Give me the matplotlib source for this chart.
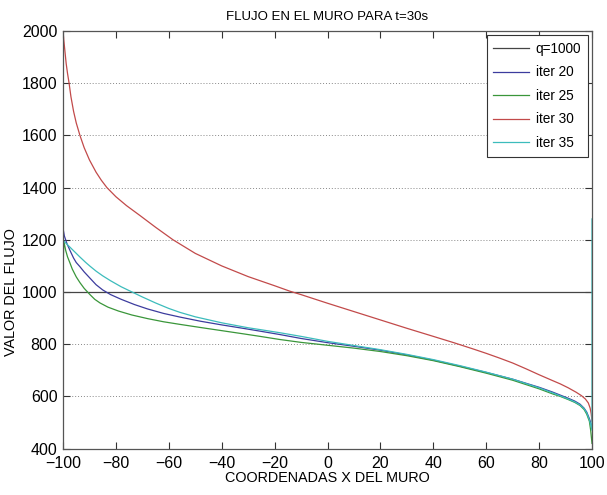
import matplotlib
matplotlib.use("Agg")
import matplotlib.pyplot as plt

plt.rcParams['font.family'] = ['Liberation Sans', 'DejaVu Sans']

# Reference flux level
q_x = [-100, 100]
q_y = [1000, 1000]

# Iteration 20
it20_x = [-100, -99.5, -99, -98.5, -97.4, -96, -95, -93.6, -92, -89.8, -87.5, -85, -82,
          -78, -73, -68, -62, -55.8, -48, -40, -32, -25.5, -18, -10, 0, 10, 20, 30,
          40, 50, 60, 70, 80, 85, 88, 91, 93.5, 95.5, 97, 98, 99, 99.5, 100]
it20_y = [1245, 1215, 1200, 1185, 1160, 1130, 1113, 1097, 1077, 1053, 1028, 1008, 990,
          972, 952, 935, 918, 904, 888, 874, 861, 850, 837, 822, 806, 792, 777, 759,
          739, 716, 692, 666, 635, 617, 605, 593, 582, 570, 555, 540, 515, 500, 480]

# Iteration 25
it25_x = [-100, -99.7, -99, -98.3, -97.4, -96.5, -95, -93.6, -92, -89.8, -88, -86, -83,
          -79, -74, -68, -62, -55.8, -48, -40, -32, -25.5, -18, -10, 0, 10, 20, 30, 40,
          50, 60, 70, 80, 85, 88, 91, 93.5, 95.5, 97, 98, 99, 99.5, 100]
it25_y = [1080, 1195, 1160, 1135, 1112, 1088, 1058, 1036, 1014, 990, 972, 958, 942,
          927, 912, 898, 886, 876, 864, 852, 840, 830, 818, 807, 796, 785, 772, 756, 737,
          714, 689, 662, 629, 610, 600, 588, 577, 565, 550, 532, 505, 470, 420]

# Iteration 30
it30_x = [-100, -99.7, -99.3, -98.8, -98.3, -97.7, -97, -96, -95, -93.6, -92, -90, -87.5,
          -85.5, -83.4, -80, -76, -70.9, -65, -58.4, -50, -40, -30, -20, -14.2, -10, 0,
          10, 20, 30, 40, 48, 55, 60, 65, 70, 75, 80, 85, 88, 91, 94, 96, 97.5, 98.6,
          99.3, 99.7, 100]
it30_y = [2000, 1965, 1925, 1875, 1838, 1800, 1748, 1692, 1648, 1600, 1553, 1506, 1459,
          1428, 1400, 1365, 1331, 1293, 1248, 1200, 1148, 1100, 1059, 1024, 1003, 990, 957,
          925, 893, 861, 830, 805, 782, 765, 747, 728, 706, 683, 661, 648, 633, 616, 603,
          590, 575, 555, 533, 505]

# Iteration 35
it35_x = [-100, -99, -97.4, -95.5, -93.6, -91.5, -89.8, -87.5, -85, -82, -78, -73.9, -70,
          -65, -60, -55.8, -50, -40, -30, -25.5, -18, -10, 0, 10, 20, 30, 40, 50, 60, 70,
          80, 85, 88, 91, 93.5, 95.5, 97, 98, 99, 99.5, 100, 100]
it35_y = [1198, 1188, 1172, 1153, 1134, 1114, 1099, 1080, 1062, 1043, 1020, 1000, 981,
          958, 937, 922, 905, 882, 863, 856, 844, 830, 811, 795, 779, 761, 741, 718, 693,
          666, 633, 614, 602, 590, 579, 567, 553, 537, 510, 492, 470, 1280]

x_ticks = list(range(-100, 101, 20))
y_ticks = list(range(400, 2001, 200))

fig = plt.figure(figsize=(6.07, 4.95), dpi=100)
ax = fig.add_axes([0.1038, 0.0937, 0.8715, 0.8437])

lw = 0.9
ax.plot(q_x, q_y, color='#454545', lw=lw, label='q=1000')
ax.plot(it20_x, it20_y, color='#3c3c9e', lw=lw, label='iter 20')
ax.plot(it25_x, it25_y, color='#3a963a', lw=lw, label='iter 25')
ax.plot(it30_x, it30_y, color='#c24a4a', lw=lw, label='iter 30')
ax.plot(it35_x, it35_y, color='#3cbcbc', lw=lw, label='iter 35')

ax.set_xlim(-100, 100)
ax.set_ylim(400, 2000)
ax.set_xticks(x_ticks)
ax.set_yticks(y_ticks)
ax.tick_params(direction='in', length=5, width=0.8, top=True, right=True,
               labelsize=11.5, colors='#333333', labelcolor='black')
ax.tick_params(axis='x', pad=5)
ax.tick_params(axis='y', pad=4)
ax.yaxis.grid(True, linestyle=(0, (1, 2)), color='#888888', lw=0.7)
for s in ax.spines.values():
    s.set_color('#555555')
    s.set_linewidth(0.9)

ax.set_title('FLUJO EN EL MURO PARA t=30s', fontsize=9.5, pad=8)
ax.set_xlabel('COORDENADAS X DEL MURO', fontsize=10.4, labelpad=0)
ax.set_ylabel('VALOR DEL FLUJO', fontsize=10.4, labelpad=4)
ax.yaxis.set_label_coords(-0.085, 0.375)

leg = ax.legend(loc='upper right', fontsize=9.8, fancybox=False, framealpha=1,
                edgecolor='#333333', handlelength=2.6, handletextpad=0.5,
                borderaxespad=0.3, labelspacing=0.7, borderpad=0.5)
leg.get_frame().set_linewidth(0.8)

fig.savefig('out.png', dpi=100)
